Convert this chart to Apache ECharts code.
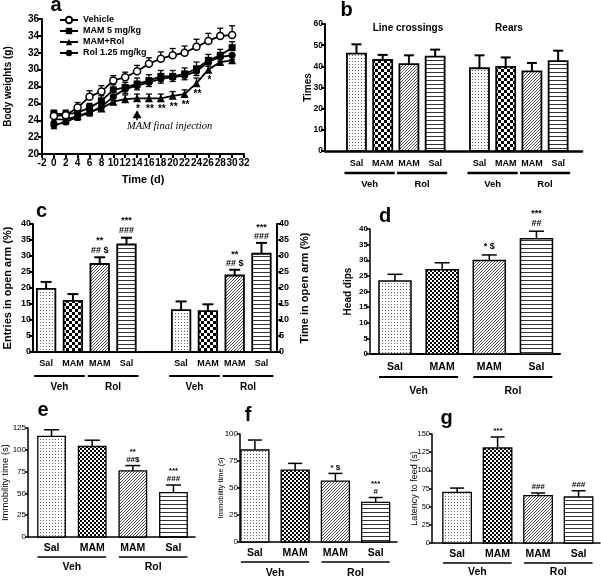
<!DOCTYPE html>
<html><head><meta charset="utf-8">
<script src="https://cdn.jsdelivr.net/npm/echarts@6/dist/echarts.min.js"></script>
<style>html,body{margin:0;padding:0;background:#fff}#c{width:601px;height:577px}</style>
</head><body><div id="c"></div>
<script>
// ---------- Panel a: body weights ----------
const aDays = [0,2,4,6,8,10,12,14,16,18,20,22,24,26,28,30];
const aVehicle    = [24.5,24.6,25.5,26.8,27.4,28.7,29.1,29.8,30.7,31.3,31.7,32.0,32.7,33.4,34.0,34.1];
const aVehicleErr = [0.4,0.5,0.6,0.7,0.7,0.6,0.6,0.7,0.7,0.8,0.8,0.8,0.9,0.9,0.9,1.1];
const aMAM        = [24.8,24.7,24.9,25.5,26.3,27.6,27.9,28.3,28.7,29.2,29.2,29.5,30.1,31.1,31.7,32.6];
const aMAMErr     = [0.4,0.5,0.5,0.5,0.6,0.6,0.6,0.7,0.7,0.7,0.7,0.7,0.8,0.7,0.7,0.7];
const aMAMRol     = [24.1,24.1,24.5,25.0,25.4,26.2,26.5,26.6,26.6,26.6,26.9,27.1,28.4,30.0,30.9,31.1];
const aMAMRolErr  = [0.3,0.3,0.4,0.4,0.4,0.5,0.5,0.5,0.5,0.5,0.5,0.5,0.6,0.6,0.6,0.6];
const aRol        = [23.4,23.8,24.4,24.9,25.6,26.8,27.7,28.1,28.5,28.9,29.1,29.3,29.8,30.9,31.5,31.7];
const aRolErr     = [0.4,0.3,0.4,0.4,0.4,0.5,0.5,0.5,0.5,0.5,0.5,0.5,0.5,0.5,0.5,0.5];
const aSigDays  = [14,16,18,20,22,24,26];
const aSigMarks = ['*','**','**','**','**','**','*'];
const aFinalInjectionDay = 14;
const aSeriesNames = ['Vehicle','MAM 5 mg/kg','MAM+Rol','Rol 1.25 mg/kg'];

// ---------- Bar panels ----------
const treatLabels = ['Sal','MAM','MAM','Sal'];
const groupLabels = ['Veh','Rol'];
const bTitles = ['Line crossings','Rears'];
const bLineCross = [46.0,43.0,41.0,44.6], bLineCrossErr = [4.4,2.4,4.2,3.3];
const bRears     = [39.1,39.7,37.6,42.5], bRearsErr     = [6.1,4.5,4.0,4.9];
const cEntries = [19.7,16.0,27.5,33.6], cEntriesErr = [2.2,2.1,2.1,2.1];
const cEntriesSig = ['','','**\n## $','***\n###'];
const cTime = [13.1,12.8,23.9,30.7], cTimeErr = [2.7,2.1,1.8,3.4];
const cTimeSig = ['','','**\n## $','***\n###'];
const dHeadDips = [23.4,27.0,29.9,36.9], dHeadDipsErr = [2.1,2.2,1.8,2.4];
const dSig = ['','','* $','***\n##'];
const eImmob = [115.3,103.8,75.8,50.8], eImmobErr = [7.7,7.2,6.1,8.8];
const eSig = ['','','**\n##$','***\n###'];
const fImmob = [85.2,66.6,56.4,36.6], fImmobErr = [9.2,6.2,7.1,4.6];
const fSig = ['','','* $','***\n#'];
const gLatency = [69.6,130.7,65.1,63.3], gLatencyErr = [6.0,15.2,3.7,8.6];
const gSig = ['','***','###','###'];

// ---------- styling helpers ----------
const FONT = 'Liberation Sans, Arial, sans-serif';
function pat(kind, cell) {
  const c = document.createElement('canvas');
  const x = c.getContext('2d');
  if (kind === 'dots') { c.width = 3; c.height = 3; x.fillStyle = '#fff'; x.fillRect(0,0,3,3); x.fillStyle = '#666'; x.fillRect(1,1,1,1); }
  else if (kind === 'checker') { const n = cell; c.width = 2*n; c.height = 2*n; x.fillStyle = '#fff'; x.fillRect(0,0,2*n,2*n); x.fillStyle = '#000'; x.fillRect(0,0,n,n); x.fillRect(n,n,n,n); }
  else if (kind === 'diag') { c.width = 3; c.height = 3; x.fillStyle = '#fff'; x.fillRect(0,0,3,3); x.fillStyle = '#555'; x.fillRect(2,0,1,1); x.fillRect(1,1,1,1); x.fillRect(0,2,1,1); }
  else if (kind === 'horiz') { c.width = 4; c.height = cell; x.fillStyle = '#fff'; x.fillRect(0,0,4,cell); x.fillStyle = '#333'; x.fillRect(0,0,4,1); }
  return { image: c, repeat: 'repeat' };
}
const patsBig = [pat('dots'), pat('checker',3), pat('diag'), pat('horiz',4)];
const patsSmall = [pat('dots'), pat('checker',2), pat('diag'), pat('horiz',4)];

function bars(cfg) {
  return {
    type: 'custom', xAxisIndex: cfg.ax, yAxisIndex: cfg.ay, clip: false, silent: true, z: 3,
    data: cfg.vals.map((v, i) => [cfg.slots[i], v, cfg.errs[i]]),
    renderItem: function (params, api) {
      const i = params.dataIndex;
      const s = api.value(0), v = api.value(1), e = api.value(2);
      const p0 = api.coord([s, 0]), p1 = api.coord([s, v]), p2 = api.coord([s, v + e]);
      const hw = cfg.barW / 2, cx = p0[0];
      const ch = [
        { type: 'line', shape: { x1: cx, y1: p1[1], x2: cx, y2: p2[1] }, style: { stroke: '#000', lineWidth: cfg.elw } },
        { type: 'line', shape: { x1: cx - cfg.cap / 2, y1: p2[1], x2: cx + cfg.cap / 2, y2: p2[1] }, style: { stroke: '#000', lineWidth: cfg.elw } },
        { type: 'rect', shape: { x: cx - hw, y: p1[1], width: cfg.barW, height: p0[1] - p1[1] }, style: { fill: cfg.pats[i], stroke: '#000', lineWidth: cfg.lw } },
        { type: 'text', style: { text: cfg.labels[i], x: cx, y: p0[1] + cfg.labDy, align: 'center', verticalAlign: 'middle', font: cfg.labFont, fill: '#000' } }
      ];
      if (cfg.sig && cfg.sig[i]) ch.push({ type: 'text', style: { text: cfg.sig[i], x: cx, y: p2[1] - cfg.sigGap, align: 'center', verticalAlign: 'bottom', font: cfg.sigFont, lineHeight: cfg.sigLH, fill: '#000' } });
      return { type: 'group', children: ch };
    }
  };
}
function groups(cfg) {
  return {
    type: 'custom', xAxisIndex: cfg.ax, yAxisIndex: cfg.ay, clip: false, silent: true, z: 3,
    data: cfg.spans,
    renderItem: function (params, api) {
      const i = params.dataIndex;
      const a = api.coord([api.value(0), 0]), b = api.coord([api.value(1), 0]);
      const x0 = a[0] - cfg.ext, x1 = b[0] + cfg.ext, y = a[1];
      return { type: 'group', children: [
        { type: 'line', shape: { x1: x0, y1: y + cfg.lineDy, x2: x1, y2: y + cfg.lineDy }, style: { stroke: '#000', lineWidth: cfg.lw } },
        { type: 'text', style: { text: cfg.names[i], x: (x0 + x1) / 2, y: y + cfg.textDy, align: 'center', verticalAlign: 'middle', font: cfg.font, fill: '#000' } }
      ] };
    }
  };
}
function errBars(xs, ys, es, dir, capW) {
  return {
    type: 'custom', xAxisIndex: 0, yAxisIndex: 0, silent: true, clip: false, z: 2,
    data: xs.map((x, i) => [x, ys[i], es[i]]),
    renderItem: function (params, api) {
      const x = api.value(0), y = api.value(1), e = api.value(2);
      const p = api.coord([x, y]), q = api.coord([x, y + dir * e]);
      return { type: 'group', children: [
        { type: 'line', shape: { x1: p[0], y1: p[1], x2: q[0], y2: q[1] }, style: { stroke: '#000', lineWidth: 1.3 } },
        { type: 'line', shape: { x1: q[0] - capW / 2, y1: q[1], x2: q[0] + capW / 2, y2: q[1] }, style: { stroke: '#000', lineWidth: 1.3 } }
      ] };
    }
  };
}
function yAx(grid, min, max, interval, name, o) {
  return {
    type: 'value', gridIndex: grid, min: min, max: max, interval: interval, position: o.pos || 'left',
    axisLine: { show: true, onZero: false, lineStyle: { color: '#000', width: o.aw } },
    axisTick: { show: true, length: o.tl, lineStyle: { color: '#000', width: o.aw } },
    axisLabel: { color: '#000', fontFamily: FONT, fontSize: o.fs, fontWeight: o.fw, margin: o.lm },
    splitLine: { show: false },
    name: name, nameLocation: 'middle', nameGap: o.ng, nameRotate: 90, nameMoveOverlap: false,
    nameTextStyle: { color: '#000', fontFamily: FONT, fontSize: o.nfs, fontWeight: o.nfw }
  };
}
function xBar(grid, min, max, aw) {
  return { type: 'value', gridIndex: grid, min: min, max: max,
    axisLine: { show: true, onZero: false, lineStyle: { color: '#000', width: aw } },
    axisTick: { show: false }, axisLabel: { show: false }, splitLine: { show: false } };
}
const slots4 = [0, 1, 2, 3];
const bBlock2 = 4.69, cBlock2 = 5.04;
const shift = (arr, d) => arr.map(v => v + d);

const grids = [
  { left: 42, top: 19, width: 202, height: 135 },   // a
  { left: 325, top: 24, width: 257, height: 127 },  // b
  { left: 33, top: 224, width: 244, height: 128 },  // c
  { left: 370, top: 229, width: 190, height: 125 }, // d
  { left: 28, top: 428, width: 167, height: 109 },  // e
  { left: 240, top: 434, width: 157, height: 108 }, // f
  { left: 432, top: 434, width: 168, height: 109 }  // g
].map(g => Object.assign({ containLabel: false, outerBoundsMode: 'none' }, g));

const xAxes = [
  { type: 'value', gridIndex: 0, min: -2, max: 32, interval: 2,
    axisLine: { show: true, onZero: false, lineStyle: { color: '#000', width: 2 } },
    axisTick: { show: true, length: 4, lineStyle: { color: '#000', width: 2 } },
    axisLabel: { color: '#000', fontFamily: FONT, fontSize: 10, fontWeight: 'bold', margin: 4 },
    splitLine: { show: false },
    name: 'Time (d)', nameLocation: 'middle', nameGap: 20, nameMoveOverlap: false,
    nameTextStyle: { color: '#000', fontFamily: FONT, fontSize: 11, fontWeight: 'bold' } },
  xBar(1, -1.2, 8.6, 2.5),
  xBar(2, -0.49, 8.62, 2),
  xBar(3, -0.53, 3.5, 2),
  xBar(4, -0.58, 3.53, 1.5),
  xBar(5, -0.37, 3.53, 1.5),
  xBar(6, -0.62, 3.53, 1.5)
];
const yAxes = [
  yAx(0, 20, 36, 2, 'Body weights (g)', { aw: 2, tl: 4, fs: 10, fw: 'bold', lm: 3, ng: 29, nfs: 10, nfw: 'bold' }),
  yAx(1, 0, 60, 10, 'Times', { aw: 2, tl: 4, fs: 8.5, fw: 'bold', lm: 2, ng: 12, nfs: 10, nfw: 'bold' }),
  yAx(2, 0, 40, 5, 'Entries in open arm (%)', { aw: 2, tl: 4, fs: 9, fw: 'bold', lm: 2, ng: 20, nfs: 11, nfw: 'bold' }),
  yAx(2, 0, 40, 5, 'Time in open arm (%)', { pos: 'right', aw: 2, tl: 4, fs: 9, fw: 'bold', lm: 2, ng: 22, nfs: 11, nfw: 'bold' }),
  yAx(3, 0, 40, 5, 'Head dips', { aw: 1.5, tl: 4, fs: 8, fw: 'bold', lm: 2, ng: 17, nfs: 10, nfw: 'bold' }),
  yAx(4, 0, 125, 25, 'Immobility time (s)', { aw: 1.5, tl: 3, fs: 8, fw: 'normal', lm: 2, ng: 18, nfs: 9.5, nfw: 'normal' }),
  yAx(5, 0, 100, 25, 'Immobility time (s)', { aw: 1.5, tl: 3, fs: 8, fw: 'normal', lm: 2, ng: 15, nfs: 7.5, nfw: 'normal' }),
  yAx(6, 0, 150, 25, 'Latency to feed (s)', { aw: 1.5, tl: 3, fs: 7.5, fw: 'normal', lm: 2, ng: 13, nfs: 9, nfw: 'normal' })
];

const lineBase = { type: 'line', xAxisIndex: 0, yAxisIndex: 0, symbolSize: 7, showAllSymbol: true, z: 5,
  lineStyle: { color: '#000', width: 1.8 } };
const series = [
  errBars(aDays, aVehicle, aVehicleErr, 1, 6),
  errBars(aDays, aMAM, aMAMErr, 1, 6),
  errBars(aDays, aMAMRol, aMAMRolErr, 1, 6),
  errBars(aDays, aRol, aRolErr, -1, 6),
  Object.assign({}, lineBase, { name: aSeriesNames[0], symbol: 'circle', data: aDays.map((d, i) => [d, aVehicle[i]]), itemStyle: { color: '#fff', borderColor: '#000', borderWidth: 1.5 }, z: 6 }),
  Object.assign({}, lineBase, { name: aSeriesNames[1], symbol: 'rect', data: aDays.map((d, i) => [d, aMAM[i]]), itemStyle: { color: '#000' } }),
  Object.assign({}, lineBase, { name: aSeriesNames[2], symbol: 'triangle', symbolSize: 8, data: aDays.map((d, i) => [d, aMAMRol[i]]), itemStyle: { color: '#000' } }),
  Object.assign({}, lineBase, { name: aSeriesNames[3], symbol: 'circle', data: aDays.map((d, i) => [d, aRol[i]]), itemStyle: { color: '#000' } }),
  { type: 'custom', xAxisIndex: 0, yAxisIndex: 0, silent: true, clip: false, z: 7,
    data: aSigDays.map(d => [d, aMAMRol[aDays.indexOf(d)]]),
    renderItem: function (params, api) {
      const p = api.coord([api.value(0), api.value(1)]);
      return { type: 'text', style: { text: aSigMarks[params.dataIndex], x: p[0] + 1, y: p[1] + 11, align: 'center', verticalAlign: 'middle', font: 'bold 10px ' + FONT, fill: '#000' } };
    } },
  { type: 'custom', xAxisIndex: 0, yAxisIndex: 0, silent: true, clip: false, z: 7,
    data: [[aFinalInjectionDay, aMAMRol[aDays.indexOf(aFinalInjectionDay)]]],
    renderItem: function (params, api) {
      const p = api.coord([api.value(0), api.value(1)]);
      return { type: 'group', children: [
        { type: 'polygon', shape: { points: [[p[0], p[1] + 12], [p[0] - 4.5, p[1] + 20], [p[0] + 4.5, p[1] + 20]] }, style: { fill: '#000' } },
        { type: 'line', shape: { x1: p[0], y1: p[1] + 18, x2: p[0], y2: p[1] + 22 }, style: { stroke: '#000', lineWidth: 1.5 } },
        { type: 'text', style: { text: 'MAM final injection', x: p[0] - 10, y: p[1] + 28, align: 'left', verticalAlign: 'middle', font: 'italic 10.5px Liberation Serif, serif', fill: '#000' } }
      ] };
    } },
  // panel b
  bars({ ax: 1, ay: 1, slots: slots4, vals: bLineCross, errs: bLineCrossErr, pats: patsBig, labels: treatLabels, barW: 19, cap: 10, lw: 1.8, elw: 2, labDy: 13, labFont: 'bold 9px ' + FONT }),
  bars({ ax: 1, ay: 1, slots: shift(slots4, bBlock2), vals: bRears, errs: bRearsErr, pats: patsBig, labels: treatLabels, barW: 19, cap: 10, lw: 1.8, elw: 2, labDy: 13, labFont: 'bold 9px ' + FONT }),
  groups({ ax: 1, ay: 1, spans: [[0, 1], [2, 3], [bBlock2, bBlock2 + 1], [bBlock2 + 2, bBlock2 + 3]], names: groupLabels.concat(groupLabels), ext: 12, lineDy: 22, textDy: 33, lw: 2.5, font: 'bold 9.5px ' + FONT }),
  // panel c
  bars({ ax: 2, ay: 2, slots: slots4, vals: cEntries, errs: cEntriesErr, pats: patsBig, labels: treatLabels, sig: cEntriesSig, barW: 18.5, cap: 11, lw: 1.8, elw: 2, labDy: 12, labFont: 'bold 9px ' + FONT, sigGap: 2, sigFont: 'bold 9px ' + FONT, sigLH: 10 }),
  bars({ ax: 2, ay: 3, slots: shift(slots4, cBlock2), vals: cTime, errs: cTimeErr, pats: patsBig, labels: treatLabels, sig: cTimeSig, barW: 18.5, cap: 11, lw: 1.8, elw: 2, labDy: 12, labFont: 'bold 9px ' + FONT, sigGap: 2, sigFont: 'bold 9px ' + FONT, sigLH: 9 }),
  groups({ ax: 2, ay: 2, spans: [[0, 1], [2, 3], [cBlock2, cBlock2 + 1], [cBlock2 + 2, cBlock2 + 3]], names: groupLabels.concat(groupLabels), ext: 12, lineDy: 24, textDy: 35, lw: 2, font: 'bold 10px ' + FONT }),
  // panel d
  bars({ ax: 3, ay: 4, slots: slots4, vals: dHeadDips, errs: dHeadDipsErr, pats: patsSmall, labels: treatLabels, sig: dSig, barW: 32, cap: 15, lw: 1.5, elw: 1.5, labDy: 13, labFont: 'bold 10.5px ' + FONT, sigGap: 3, sigFont: 'bold 9px ' + FONT, sigLH: 10 }),
  groups({ ax: 3, ay: 4, spans: [[0, 1], [2, 3]], names: groupLabels, ext: 16, lineDy: 23, textDy: 37, lw: 2, font: 'bold 10.5px ' + FONT }),
  // panel e
  bars({ ax: 4, ay: 5, slots: slots4, vals: eImmob, errs: eImmobErr, pats: patsSmall, labels: treatLabels, sig: eSig, barW: 27.5, cap: 15, lw: 1.3, elw: 1.5, labDy: 11, labFont: 'bold 10.5px ' + FONT, sigGap: 2, sigFont: 'bold 8px ' + FONT, sigLH: 8 }),
  groups({ ax: 4, ay: 5, spans: [[0, 1], [2, 3]], names: groupLabels, ext: 14, lineDy: 20, textDy: 30, lw: 1.5, font: 'bold 10.5px ' + FONT }),
  // panel f
  bars({ ax: 5, ay: 6, slots: slots4, vals: fImmob, errs: fImmobErr, pats: patsSmall, labels: treatLabels, sig: fSig, barW: 28, cap: 14, lw: 1.3, elw: 1.5, labDy: 11, labFont: 'bold 10.5px ' + FONT, sigGap: 2, sigFont: 'bold 8px ' + FONT, sigLH: 8 }),
  groups({ ax: 5, ay: 6, spans: [[0, 1], [2, 3]], names: groupLabels, ext: 14, lineDy: 20, textDy: 31, lw: 1.5, font: 'bold 10.5px ' + FONT }),
  // panel g
  bars({ ax: 6, ay: 7, slots: slots4, vals: gLatency, errs: gLatencyErr, pats: patsSmall, labels: treatLabels, sig: gSig, barW: 28.5, cap: 14, lw: 1.3, elw: 1.5, labDy: 11, labFont: 'bold 10.5px ' + FONT, sigGap: 2, sigFont: 'italic bold 8px ' + FONT, sigLH: 8 }),
  groups({ ax: 6, ay: 7, spans: [[0, 1], [2, 3]], names: groupLabels, ext: 14, lineDy: 20, textDy: 29, lw: 1.5, font: 'bold 10.5px ' + FONT })
];

const letter = (t, x, y) => ({ type: 'text', x: x, y: y, style: { text: t, font: 'bold 20px ' + FONT, fill: '#000', align: 'center', verticalAlign: 'middle' } });
const graphic = [
  letter('a', 56, 5), letter('b', 346.5, 10), letter('c', 41.5, 211), letter('d', 385, 216),
  letter('e', 43, 410), letter('f', 248, 415), letter('g', 446.5, 418),
  { type: 'text', x: 408, y: 28, style: { text: bTitles[0], font: 'bold 10px ' + FONT, fill: '#000', align: 'center', verticalAlign: 'middle' } },
  { type: 'text', x: 509, y: 28, style: { text: bTitles[1], font: 'bold 10px ' + FONT, fill: '#000', align: 'center', verticalAlign: 'middle' } }
];

const chart = echarts.init(document.getElementById('c'), null, { renderer: 'canvas' });
chart.setOption({
  animation: false,
  backgroundColor: '#fff',
  grid: grids, xAxis: xAxes, yAxis: yAxes,
  legend: { data: aSeriesNames, orient: 'vertical', left: 54, top: 10, itemWidth: 18, itemHeight: 8, itemGap: 1, selectedMode: false,
    textStyle: { color: '#000', fontFamily: FONT, fontWeight: 'bold', fontSize: 9, lineHeight: 10 } },
  graphic: graphic,
  series: series
});
</script></body></html>
